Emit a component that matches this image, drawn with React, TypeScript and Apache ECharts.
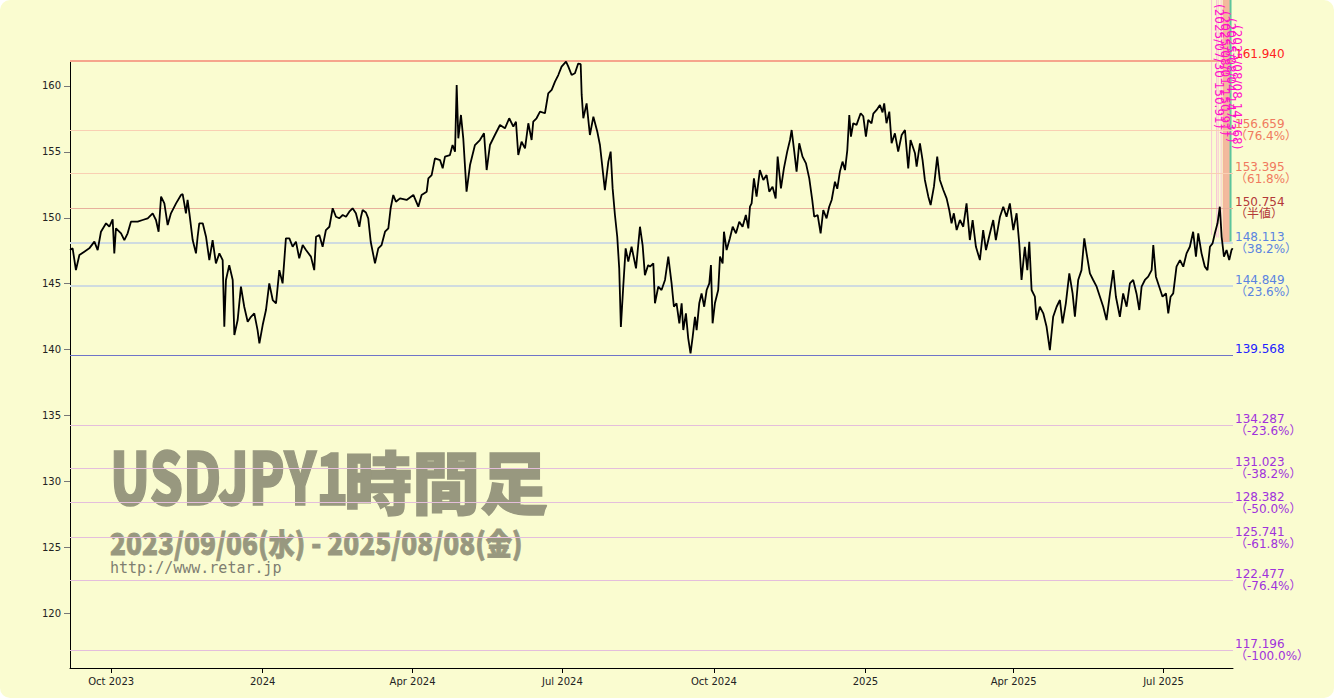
import React, { useEffect, useRef } from "react";
import * as echarts from "echarts";

// ---- data ----
const startDate = Date.UTC(2023, 8, 6); // 2023/09/06
const DAY_MS = 86400000;
const axisEndDay = 706.2;

// [days since 2023/09/06, USDJPY price]
const usdjpyTrace: [number, number][] = [
  [0, 147.55], [1.6, 147.68], [3.6, 146.03], [5.7, 147.17], [8.7, 147.43], [11.7, 147.68], [14.8, 148.19], [16.8, 147.55],
  [18.8, 148.94], [21.9, 149.58], [23.9, 149.32], [25.9, 149.88], [26.9, 147.3], [27.9, 149.2], [31.0, 148.82], [33.0, 148.31],
  [35.0, 148.82], [37.0, 149.7], [41.1, 149.7], [44.1, 149.83], [47.2, 149.96], [50.2, 150.34], [52.2, 149.83], [53.8, 148.94],
  [55.3, 151.6], [57.3, 151.09], [59.3, 149.45], [61.3, 150.34], [64.4, 151.09], [67.4, 151.73], [68.4, 151.8], [69.4, 151.09],
  [70.4, 150.34], [71.4, 151.35], [72.5, 150.34], [74.5, 148.31], [76.5, 147.3], [77.5, 148.56], [78.5, 149.58], [80.6, 149.58],
  [82.6, 148.56], [84.6, 146.79], [86.6, 148.31], [88.6, 146.54], [90.7, 147.3], [92.7, 146.79], [93.7, 141.73], [94.7, 145.28],
  [96.7, 146.41], [98.8, 145.28], [99.8, 141.1], [101.8, 142.24], [103.8, 144.77], [105.8, 143.25], [107.9, 142.11], [109.9, 142.49],
  [111.9, 142.75], [113.9, 141.48], [115.0, 140.47], [117.0, 141.86], [119.0, 143.0], [121.0, 145.02], [123.1, 143.76], [125.1, 143.51],
  [127.1, 146.03], [129.1, 145.02], [131.1, 148.44], [133.2, 148.44], [135.2, 147.8], [137.2, 148.19], [139.2, 146.92], [141.3, 147.93],
  [143.3, 147.55], [146.3, 147.05], [148.3, 146.03], [149.4, 148.56], [151.4, 148.69], [153.4, 147.8], [155.4, 149.07], [157.5, 149.32],
  [159.5, 150.72], [161.5, 150.08], [163.5, 149.96], [165.6, 150.21], [167.6, 150.08], [169.6, 150.46], [171.6, 150.72], [173.6, 150.34],
  [175.7, 149.32], [176.7, 150.08], [177.7, 150.59], [179.7, 150.4], [181.1, 149.96], [182.6, 148.18], [184.2, 147.17], [185.2, 146.54],
  [187.2, 147.68], [189.2, 147.93], [191.3, 148.94], [193.3, 149.2], [194.7, 150.72], [196.3, 151.73], [197.9, 151.22], [200.4, 151.47],
  [204.4, 151.35], [208.5, 151.73], [211.5, 150.84], [213.5, 151.73], [216.6, 151.98], [217.6, 152.99], [219.6, 153.24], [221.6, 154.51],
  [224.7, 154.38], [226.3, 153.75], [227.7, 154.64], [230.7, 154.76], [232.3, 155.52], [233.8, 155.02], [234.8, 160.08], [235.8, 156.03],
  [237.4, 157.8], [238.8, 156.03], [240.8, 151.98], [242.9, 154.0], [245.9, 155.52], [248.9, 155.9], [251.4, 156.41], [253.0, 153.62],
  [255.0, 155.52], [258.0, 156.28], [261.1, 157.04], [264.1, 156.79], [266.7, 157.55], [269.2, 156.91], [270.8, 157.29], [272.2, 154.76],
  [274.2, 155.77], [276.3, 155.27], [278.3, 157.17], [280.3, 155.9], [281.3, 157.29], [283.3, 157.55], [285.4, 158.05], [288.4, 157.93],
  [290.4, 159.44], [292.5, 159.7], [294.5, 160.33], [296.5, 160.83], [298.5, 161.47], [301.2, 161.85], [302.6, 161.47], [304.6, 160.83],
  [306.6, 160.96], [308.6, 161.7], [310.1, 161.65], [310.7, 159.32], [311.7, 157.55], [313.7, 158.68], [315.7, 156.28], [317.8, 157.67],
  [320.2, 156.53], [321.8, 155.52], [323.8, 153.24], [324.8, 152.1], [326.9, 154.26], [328.3, 155.02], [329.5, 152.23], [330.9, 150.21],
  [332.3, 148.56], [333.5, 146.16], [334.5, 141.71], [336.0, 144.9], [337.4, 147.68], [339.0, 146.67], [341.0, 147.8], [343.7, 146.16],
  [346.1, 149.32], [347.7, 147.93], [349.1, 145.65], [351.1, 146.41], [352.2, 146.29], [354.2, 146.54], [355.2, 143.51], [357.2, 144.77],
  [359.2, 144.52], [361.3, 145.28], [363.3, 147.05], [365.3, 145.02], [366.7, 143.25], [368.3, 143.51], [370.0, 141.99], [371.4, 143.51],
  [372.4, 141.48], [374.0, 142.75], [375.4, 140.85], [376.8, 139.71], [378.1, 140.97], [379.5, 142.49], [380.5, 141.48], [382.1, 143.51],
  [383.5, 144.26], [385.1, 143.25], [386.6, 144.52], [388.2, 145.02], [389.2, 146.41], [390.2, 141.99], [391.6, 143.51], [393.6, 144.52],
  [394.7, 147.05], [396.3, 146.54], [397.1, 148.94], [398.7, 147.55], [400.7, 148.44], [402.4, 149.32], [404.4, 148.82], [406.4, 149.7],
  [408.4, 149.32], [410.4, 150.21], [411.9, 149.2], [412.9, 150.84], [413.9, 151.09], [415.3, 152.99], [416.9, 151.6], [418.9, 153.62],
  [421.0, 152.87], [423.0, 153.24], [424.6, 151.98], [426.6, 152.36], [428.5, 151.47], [429.7, 154.64], [431.7, 152.23], [433.5, 153.75],
  [435.5, 155.02], [437.2, 155.9], [438.2, 156.66], [439.8, 155.02], [441.2, 153.5], [442.8, 155.65], [444.8, 154.64], [446.9, 154.13],
  [448.9, 152.99], [450.7, 151.35], [451.9, 150.08], [454.0, 150.2], [455.8, 148.82], [457.4, 150.59], [459.4, 149.96], [461.0, 150.84],
  [462.5, 151.35], [464.5, 152.74], [465.9, 152.2], [467.5, 153.5], [469.1, 154.26], [470.6, 153.62], [472.0, 155.14], [473.2, 157.8],
  [474.2, 156.15], [475.6, 157.17], [477.6, 157.05], [480.1, 157.93], [481.7, 157.7], [483.3, 156.15], [484.7, 157.42], [486.7, 157.17],
  [487.8, 157.9], [489.8, 158.18], [491.8, 158.56], [493.4, 158.0], [494.4, 158.68], [495.8, 157.17], [497.5, 158.05], [498.9, 155.65],
  [500.9, 156.41], [502.9, 155.02], [505.0, 156.28], [507.0, 156.66], [509.0, 153.75], [510.4, 155.9], [513.1, 154.89], [514.1, 153.88],
  [516.1, 155.65], [517.7, 154.38], [519.1, 152.87], [521.2, 151.6], [522.6, 150.97], [524.6, 152.36], [526.6, 154.64], [528.2, 152.87],
  [530.3, 152.11], [532.3, 151.47], [533.9, 150.59], [535.3, 149.58], [536.7, 150.34], [538.4, 149.07], [540.4, 149.83], [542.4, 149.32],
  [544.4, 151.09], [546.4, 148.31], [548.1, 149.83], [550.1, 147.8], [552.5, 146.79], [554.5, 149.07], [556.2, 147.55], [558.6, 148.82],
  [560.6, 149.83], [562.2, 148.31], [564.7, 150.08], [566.7, 150.84], [568.7, 150.08], [570.7, 151.09], [572.8, 149.07], [574.8, 150.34],
  [576.4, 148.06], [577.8, 145.28], [579.8, 147.8], [581.3, 146.03], [582.5, 148.18], [583.9, 144.52], [585.9, 144.01], [586.9, 142.24],
  [588.9, 143.25], [591.0, 142.75], [593.0, 141.73], [595.0, 139.96], [597.0, 142.49], [599.1, 143.25], [601.1, 143.76], [602.7, 141.99],
  [604.7, 143.51], [606.8, 145.78], [608.8, 144.26], [610.2, 142.49], [612.2, 145.28], [614.2, 146.03], [615.9, 148.44], [617.3, 147.3],
  [619.3, 145.78], [621.3, 145.28], [623.4, 144.77], [625.4, 144.01], [627.4, 143.25], [629.4, 142.24], [631.5, 144.26], [633.5, 146.03],
  [635.1, 144.01], [637.5, 142.49], [639.5, 144.26], [641.6, 143.25], [643.6, 145.02], [645.6, 145.28], [647.6, 144.26], [649.3, 143.0],
  [650.7, 144.77], [652.7, 145.28], [654.7, 145.53], [656.8, 146.03], [657.8, 147.93], [659.4, 145.53], [661.4, 144.77], [663.4, 144.01],
  [665.5, 144.26], [666.9, 142.75], [668.3, 144.01], [669.9, 144.26], [671.9, 146.29], [674.0, 146.79], [676.0, 146.29], [678.0, 147.3],
  [680.0, 147.8], [682.0, 148.94], [683.7, 147.05], [685.1, 148.82], [687.1, 147.3], [689.1, 146.29], [690.7, 146.03], [692.2, 147.8],
  [693.8, 148.06], [695.2, 148.82], [696.8, 149.58], [698.2, 150.84], [699.3, 148.56], [700.7, 147.05], [702.3, 147.55], [703.9, 146.79],
  [705.3, 147.55], [706.0, 147.68],
];

// Fibonacci levels (high 161.940 / low 139.568)
const fibLevels = [161.94, 156.659, 153.395, 150.754, 148.113, 144.849, 139.568, 134.287, 131.023, 128.382, 125.741, 122.477, 117.196];
const fibTags = ["", "（76.4%）", "（61.8%）", "（半値）", "（38.2%）", "（23.6%）", "", "（-23.6%）", "（-38.2%）", "（-50.0%）", "（-61.8%）", "（-76.4%）", "（-100.0%）"];
const fibKinds = ["high", "up", "up", "half", "down", "down", "low", "ext", "ext", "ext", "ext", "ext", "ext"];

// recent-range vertical markers (days since start) and the price where each ends
const markerDays = [693.2, 696.2, 697.2, 699.0, 700.3, 700.9, 701.5, 702.1, 702.7, 703.3, 703.9, 704.7];
const markerKinds = ["pink", "pink", "pink", "pink", "salmon", "salmon", "salmon", "salmon", "salmon", "salmon", "salmon", "teal"];
const markerBottoms = [148.7, 148.5, 148.5, 148.3, 148.1, 148.1, 148.1, 148.1, 148.1, 148.1, 148.1, 148.2];

const yMin = 115.84;
const yMax = 161.94;
const monthNames = ["Jan", "Feb", "Mar", "Apr", "May", "Jun", "Jul", "Aug", "Sep", "Oct", "Nov", "Dec"];

const titleLatin = "USDJPY1";
const titleKanji = "時間足";
const subtitle = "2023/09/06(水) - 2025/08/08(金)";
const siteUrl = "http://www.retar.jp";
const sideNotes = ["(2025/07/30 150.91)", "(2025/08/01 150.91)", "(2025/08/04 147.31)", "(2025/08/08 147.68)"];

const kindStyle: Record<string, { line: string; width: number; text: string }> = {
  high: { line: "#f6a58c", width: 2, text: "#ff2222" },
  up: { line: "#f9cfb3", width: 1, text: "#f07a5e" },
  half: { line: "#e7b09c", width: 1, text: "#b43838" },
  down: { line: "#cfdbe0", width: 2, text: "#5a84e0" },
  low: { line: "#6f74c8", width: 1, text: "#2222ff" },
  ext: { line: "#e4bedc", width: 1, text: "#a032dc" },
};
const markerColor: Record<string, string> = { pink: "#f7c6d6", salmon: "#f1aa92", teal: "#5cc49c" };

const LABEL_FONT = "'DejaVu Sans', 'Noto Sans CJK JP', sans-serif";
const WM = "#98987f";

export default function App() {
  const ref = useRef<HTMLDivElement>(null);

  useEffect(() => {
    if (!ref.current) return;
    const chart = echarts.init(ref.current, undefined, { renderer: "svg" });

    const seriesData = usdjpyTrace.map(([d, p]) => [startDate + d * DAY_MS, p]);

    const fibLines = fibLevels.map((v, i) => {
      const st = kindStyle[fibKinds[i]];
      const text = v.toFixed(3) + "\n" + (fibTags[i] ? fibTags[i] : " ");
      return {
        yAxis: v,
        lineStyle: { color: st.line, width: st.width, type: "solid" },
        label: {
          show: true,
          position: "end",
          distance: 2,
          formatter: text,
          color: st.text,
          fontSize: 12,
          lineHeight: 12,
          fontFamily: LABEL_FONT,
          align: "left",
        },
      };
    });

    const option: any = {
      animation: false,
      useUTC: true,
      backgroundColor: "transparent",
      grid: { left: 70, right: 101, top: 60.4, bottom: 30, containLabel: false },
      xAxis: {
        type: "time",
        min: startDate,
        max: startDate + axisEndDay * DAY_MS,
        splitNumber: 7,
        minInterval: 95 * DAY_MS,
        maxInterval: 170 * DAY_MS,
        axisLine: { show: true, lineStyle: { color: "#000", width: 1 } },
        axisTick: { show: true, length: 5, lineStyle: { color: "#000" } },
        minorTick: { show: false },
        splitLine: { show: false },
        axisLabel: {
          color: "#222",
          fontSize: 10,
          fontFamily: "'DejaVu Sans', sans-serif",
          margin: 8,
          hideOverlap: false,
          formatter: (val: number) => {
            const dt = new Date(val);
            const m = dt.getUTCMonth();
            return m === 0 ? String(dt.getUTCFullYear()) : `${monthNames[m]} ${dt.getUTCFullYear()}`;
          },
        },
      },
      yAxis: {
        type: "value",
        min: yMin,
        max: yMax,
        splitNumber: 9,
        scale: true,
        axisLine: { show: true, lineStyle: { color: "#000", width: 1 } },
        axisTick: { show: true, length: 6, lineStyle: { color: "#777" } },
        splitLine: { show: false },
        axisLabel: {
          color: "#222",
          fontSize: 10,
          fontFamily: "'DejaVu Sans', sans-serif",
          margin: 9,
          showMinLabel: false,
          showMaxLabel: false,
        },
      },
      graphic: [
        {
          id: "wm-latin",
          type: "text",
          x: 110,
          y: 474,
          scaleX: 0.73,
          silent: true,
          z: 0,
          style: { text: titleLatin, fill: WM, font: "900 72px 'Noto Sans CJK JP'", verticalAlign: "middle", stroke: WM, lineWidth: 1.5 },
        },
        {
          id: "wm-kanji",
          type: "text",
          x: 344,
          y: 479,
          silent: true,
          z: 0,
          style: { text: titleKanji, fill: WM, font: "900 68px 'Noto Sans CJK JP'", verticalAlign: "middle", stroke: WM, lineWidth: 1.5 },
        },
        {
          id: "wm-sub",
          type: "text",
          x: 110,
          y: 542,
          scaleX: 0.875,
          silent: true,
          z: 0,
          style: { text: subtitle, fill: WM, font: "900 30px 'Noto Sans CJK JP'", verticalAlign: "middle", stroke: WM, lineWidth: 0.8 },
        },
        {
          id: "wm-url",
          type: "text",
          x: 110,
          y: 568,
          silent: true,
          z: 0,
          style: { text: siteUrl, fill: "#7e7e70", font: "15px 'DejaVu Sans Mono'", verticalAlign: "middle" },
        },
        ...sideNotes.map((t, i) => ({
          id: "note-" + i,
          type: "text",
          x: 1219 + i * 6,
          y: 4 + i * 7,
          rotation: -Math.PI / 2,
          silent: true,
          z: 10,
          style: { text: t, fill: "#ff10c8", font: "12px 'DejaVu Sans'", verticalAlign: "middle", align: "left" },
        })),
      ],
      series: [
        {
          type: "line",
          data: seriesData,
          showSymbol: false,
          symbol: "none",
          z: 3,
          lineStyle: { color: "#000", width: 1.8 },
          emphasis: { disabled: true },
          silent: true,
          markLine: {
            silent: true,
            z: 1,
            symbol: ["none", "none"],
            animation: false,
            label: { show: false },
            emphasis: { disabled: true },
            data: fibLines,
          },
        },
      ],
    };

    chart.setOption(option);

    // vertical range markers: positioned through the chart's own scales, run up to the page top
    const markerGraphics = markerDays.map((d, i) => {
      const pt = chart.convertToPixel({ gridIndex: 0 }, [startDate + d * DAY_MS, markerBottoms[i]]) as number[];
      return {
        id: "marker-" + i,
        type: "line",
        silent: true,
        z: 1,
        shape: { x1: pt[0], y1: pt[1], x2: pt[0], y2: 0 },
        style: { stroke: markerColor[markerKinds[i]], lineWidth: markerKinds[i] === "teal" ? 2 : 1 },
      };
    });
    chart.setOption({ graphic: markerGraphics });

    return () => chart.dispose();
  }, []);

  return (
    <div
      style={{
        position: "fixed",
        left: 0,
        top: 0,
        width: 1334,
        height: 698,
        background: "#fafcd0",
        borderRadius: 10,
        overflow: "hidden",
      }}
    >
      <div ref={ref} style={{ width: 1334, height: 698 }} />
    </div>
  );
}
